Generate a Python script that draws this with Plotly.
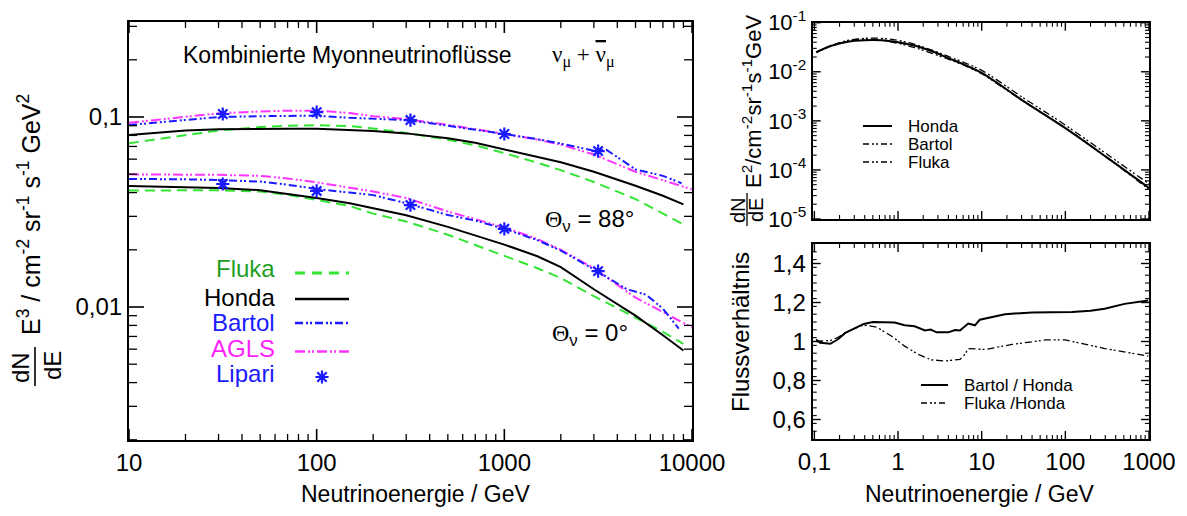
import math
import plotly.graph_objects as go

W, H = 1187, 516

# ---------------- data: left panel (E^3 dN/dE) ----------------
E_left = [10, 15, 20, 30, 50, 70, 100, 150, 200, 300, 500, 700, 1000, 1500, 2000, 3000, 5000, 7000, 9000]

honda_88 = [0.0804, 0.0835, 0.0850, 0.0861, 0.0868, 0.0868, 0.0866, 0.0858, 0.0845, 0.0820, 0.0772, 0.0732,
            0.0675, 0.0620, 0.0578, 0.0515, 0.0435, 0.0385, 0.0347]
fluka_88 = [0.0727, 0.0770, 0.0805, 0.0850, 0.0885, 0.0900, 0.0905, 0.0895, 0.0870, 0.0825, 0.0760, 0.0710,
            0.0645, 0.0575, 0.0525, 0.0455, 0.0370, 0.0310, 0.0272]
E_bartol = [10, 15, 20, 30, 50, 70, 100, 150, 200, 300, 500, 700, 1000, 1500, 2000, 3000, 3500, 5000, 7000, 8800]
bartol_88 = [0.0908, 0.0940, 0.0965, 0.1000, 0.1010, 0.1015, 0.1016, 0.0990, 0.0978, 0.0964, 0.0900, 0.0860,
             0.0814, 0.0765, 0.0725, 0.0665, 0.0672, 0.0530, 0.0490, 0.0448]
E_agls = [10, 15, 20, 30, 50, 70, 100, 150, 200, 300, 500, 700, 1000, 1500, 2000, 3000, 5000, 7000, 10000]
agls_88 = [0.0933, 0.0970, 0.1000, 0.1045, 0.1070, 0.1080, 0.1080, 0.1050, 0.1010, 0.0975, 0.0910, 0.0865,
           0.0815, 0.0760, 0.0715, 0.0635, 0.0515, 0.0465, 0.0416]

honda_0 = [0.0434, 0.0431, 0.0428, 0.0423, 0.0412, 0.0395, 0.0375, 0.0352, 0.0332, 0.0304, 0.0264, 0.0238,
           0.0213, 0.0185, 0.0162, 0.0124, 0.0090, 0.0071, 0.0059]
fluka_0 = [0.0410, 0.0411, 0.0412, 0.0412, 0.0405, 0.0390, 0.0366, 0.0340, 0.0310, 0.0282, 0.0240, 0.0212,
           0.0186, 0.0160, 0.0142, 0.0114, 0.0088, 0.0074, 0.0064]
E_bartol0 = [10, 15, 20, 30, 50, 70, 100, 150, 200, 300, 500, 700, 1000, 1500, 2000, 3000, 4500, 5700, 7000, 8500]
bartol_0 = [0.0472, 0.0472, 0.0470, 0.0466, 0.0457, 0.0440, 0.0418, 0.0400, 0.0388, 0.0352, 0.0305, 0.0285,
            0.0258, 0.0225, 0.0198, 0.0158, 0.0124, 0.0116, 0.0098, 0.0077]
agls_0 = [0.0499, 0.0498, 0.0497, 0.0496, 0.0490, 0.0475, 0.0453, 0.0425, 0.0405, 0.0375, 0.0318, 0.0290,
          0.0262, 0.0228, 0.0200, 0.0160, 0.0112, 0.0094, 0.0078]

E_lipari = [31.6, 100, 316, 1000, 3160]
lipari_88 = [0.1037, 0.1060, 0.0964, 0.0814, 0.0662]
lipari_0 = [0.0444, 0.0408, 0.0344, 0.0258, 0.01545]

# ---------------- data: top right (E^2 dN/dE) ----------------
E_flux = [0.105, 0.16, 0.25, 0.4, 0.63, 1, 1.6, 2.5, 4, 6.3, 10, 32, 100, 316, 1000]
honda_flux = [0.0250, 0.0340, 0.0410, 0.0440, 0.0440, 0.0400, 0.0340, 0.0265, 0.0190, 0.0138, 0.0095,
              0.0025, 0.00071, 0.000178, 0.0000430]
bartol_flux = [0.0250, 0.0335, 0.0430, 0.0480, 0.0480, 0.0435, 0.0360, 0.0278, 0.0205, 0.0152, 0.0107,
               0.00288, 0.00082, 0.000208, 0.0000520]
fluka_flux = [0.0250, 0.0342, 0.0435, 0.0465, 0.0440, 0.0380, 0.0310, 0.0240, 0.0180, 0.0133, 0.0091,
              0.00245, 0.00072, 0.000178, 0.0000400]

# ---------------- data: bottom right (ratios) ----------------
E_ratio_b = [0.105, 0.117, 0.155, 0.19, 0.234, 0.316, 0.39, 0.5, 0.71, 0.91, 1.2, 1.58, 2.1, 2.45, 2.9, 4.0,
             4.8, 5.5, 6.9, 8.3, 9.5, 12.6, 19, 40, 120, 200, 295, 510, 980]
ratio_bartol = [1.010, 0.993, 0.988, 1.010, 1.044, 1.072, 1.090, 1.100, 1.098, 1.097, 1.083, 1.078, 1.057,
                1.061, 1.047, 1.047, 1.059, 1.056, 1.092, 1.083, 1.112, 1.125, 1.140, 1.149, 1.151, 1.158,
                1.168, 1.193, 1.210]
E_ratio_f = [0.105, 0.155, 0.19, 0.234, 0.355, 0.43, 0.56, 0.84, 1.2, 1.74, 2.5, 3.6, 5.5, 6.3, 6.9, 11, 23,
             58, 100, 295, 980]
ratio_fluka = [1.000, 1.005, 1.020, 1.044, 1.080, 1.083, 1.073, 1.027, 0.976, 0.934, 0.906, 0.900, 0.908,
               0.934, 0.964, 0.959, 0.985, 1.008, 1.008, 0.964, 0.925]

# tick values
left_x_ticks = [10, 100, 1000, 10000]
left_x_labels = ["10", "100", "1000", "10000"]
left_y_ticks = [0.01, 0.1]
left_y_labels = ["0,01", "0,1"]
right_x_ticks = [0.1, 1, 10, 100, 1000]
right_x_labels = ["0,1", "1", "10", "100", "1000"]
flux_ticks = [1e-5, 1e-4, 1e-3, 1e-2, 1e-1]
flux_labels = ["10<sup>-5</sup>", "10<sup>-4</sup>", "10<sup>-3</sup>", "10<sup>-2</sup>", "10<sup>-1</sup>"]
ratio_ticks = [0.6, 0.8, 1.0, 1.2, 1.4]
ratio_labels = ["0,6", "0,8", "1", "1,2", "1,4"]

# ---------------- styling ----------------
FONT = "Liberation Sans"
GREEN = "#33e533"
BLUE = "#1a1aff"
MAGENTA = "#ff33ff"
DASH_B = "8px,3px,2px,2px,2px,3px"
DASH_A = "10px,3px,2px,2px,2px,3px"
DASH_K = "7px,3px,2px,2px,2px,3px"
TICK_X = "black"
TICK_Y = "black"


def px(x):
    return x / W


def py(y):
    return 1 - y / H


fig = go.Figure()

# left panel
for yv in [fluka_88, fluka_0]:
    fig.add_trace(go.Scatter(x=E_left, y=yv, mode="lines", line=dict(color=GREEN, width=2, dash="10px,6px"),
                             xaxis="x", yaxis="y", showlegend=False))
for yv in [honda_88, honda_0]:
    fig.add_trace(go.Scatter(x=E_left, y=yv, mode="lines", line=dict(color="black", width=2),
                             xaxis="x", yaxis="y", showlegend=False))
for yv in [agls_88, agls_0]:
    fig.add_trace(go.Scatter(x=E_agls, y=yv, mode="lines", line=dict(color=MAGENTA, width=2, dash=DASH_A),
                             xaxis="x", yaxis="y", showlegend=False))
for yv, xv in [(bartol_88, E_bartol), (bartol_0, E_bartol0)]:
    fig.add_trace(go.Scatter(x=xv, y=yv, mode="lines", line=dict(color=BLUE, width=2, dash=DASH_B),
                             xaxis="x", yaxis="y", showlegend=False))
for yv in [lipari_88, lipari_0]:
    fig.add_trace(go.Scatter(x=E_lipari, y=yv, mode="markers",
                             marker=dict(symbol="asterisk-open", size=11, color=BLUE,
                                         line=dict(color=BLUE, width=2.2)),
                             xaxis="x", yaxis="y", showlegend=False))

# top right
fig.add_trace(go.Scatter(x=E_flux, y=fluka_flux, mode="lines", line=dict(color="black", width=1.3, dash=DASH_K),
                         line_shape="spline", xaxis="x2", yaxis="y2", showlegend=False))
fig.add_trace(go.Scatter(x=E_flux, y=bartol_flux, mode="lines", line=dict(color="black", width=1.3, dash=DASH_K),
                         line_shape="spline", xaxis="x2", yaxis="y2", showlegend=False))
fig.add_trace(go.Scatter(x=E_flux, y=honda_flux, mode="lines", line=dict(color="black", width=2),
                         line_shape="spline", xaxis="x2", yaxis="y2", showlegend=False))

# bottom right
fig.add_trace(go.Scatter(x=E_ratio_f, y=ratio_fluka, mode="lines",
                         line=dict(color="black", width=1.3, dash=DASH_K),
                         xaxis="x3", yaxis="y3", showlegend=False))
fig.add_trace(go.Scatter(x=E_ratio_b, y=ratio_bartol, mode="lines", line=dict(color="black", width=2),
                         xaxis="x3", yaxis="y3", showlegend=False))


def axis(domain, rng, tickvals, ticktext, anchor, typ="log", showlabels=True, fs=24):
    return dict(domain=domain, type=typ, range=rng, tickmode="array", tickvals=tickvals, ticktext=ticktext,
                ticks="", mirror=True, showline=True, linecolor="black", linewidth=2, showgrid=False,
                zeroline=False, automargin=False, showticklabels=showlabels,
                tickfont=dict(family=FONT, size=fs, color="black"), anchor=anchor)


xl_dom = [px(129), px(692)]
yl_dom = [py(440), py(22)]
xr_dom = [px(812.7), px(1149)]
yr1_dom = [py(219), py(22.7)]
yr2_dom = [py(439), py(244)]

XL_RANGE, YL_RANGE = [1, 4], [-2.7, -0.5]
XR_RANGE, YF_RANGE, YR_RANGE = [-1.02, 3.0], [-5, -1], [0.5, 1.5]

fig.update_layout(
    template="none",
    width=W, height=H, margin=dict(l=0, r=0, t=0, b=0, pad=0, autoexpand=False),
    paper_bgcolor="white", plot_bgcolor="rgba(0,0,0,0)",
    font=dict(family=FONT, color="black"),
    showlegend=False,
    xaxis=axis(xl_dom, XL_RANGE, left_x_ticks, left_x_labels, "y"),
    yaxis=axis(yl_dom, YL_RANGE, left_y_ticks, left_y_labels, "x"),
    xaxis2=axis(xr_dom, XR_RANGE, right_x_ticks, [""] * 5, "y2", showlabels=False),
    yaxis2=axis(yr1_dom, YF_RANGE, flux_ticks, flux_labels, "x2", fs=22),
    xaxis3=axis(xr_dom, XR_RANGE, right_x_ticks, right_x_labels, "y3"),
    yaxis3=axis(yr2_dom, YR_RANGE, ratio_ticks, ratio_labels, "x3", typ="linear"),
    xaxis4=dict(domain=[0, 1], range=[0, W], visible=False, anchor="y4", automargin=False),
    yaxis4=dict(domain=[0, 1], range=[H, 0], visible=False, anchor="x4", automargin=False),
)

ann = []


def text(x, y, s, size=24, color="black", xanchor="center", yanchor="middle", angle=0, family=FONT):
    ann.append(dict(x=px(x), y=py(y), xref="paper", yref="paper", text=s, showarrow=False,
                    xanchor=xanchor, yanchor=yanchor, textangle=angle,
                    font=dict(family=family, size=size, color=color)))


# axis titles
text(416, 494, "Neutrinoenergie / GeV", 23)
text(980, 494, "Neutrinoenergie / GeV", 23)
text(740, 332, "Flussverhältnis", 24, angle=-90)

# left y-label with fraction
text(20, 368, "dN", 24, angle=-90)
text(52, 366, "dE", 24, angle=-90)
text(29, 215, "E<sup>3</sup> / cm<sup>-2</sup> sr<sup>-1</sup> s<sup>-1</sup> GeV<sup>2</sup>", 25, angle=-90)

# top right y-label with fraction
text(738, 210, "dN", 20, angle=-90)
text(756, 210, "dE", 20, angle=-90)
text(752, 102, "E<sup>2</sup>/cm<sup>-2</sup>sr<sup>-1</sup>s<sup>-1</sup>GeV", 22, angle=-90)

# title
text(181, 55, "Kombinierte Myonneutrinoflüsse", 23, xanchor="left")
text(550, 57, "ν<sub>μ</sub> + <span style=\"text-decoration:overline\">ν</span><sub>μ</sub>", 23,
     xanchor="left", family="Liberation Serif")

# theta labels
text(543, 220, "<span style=\"font-family:'Liberation Serif'\">Θ</span><sub>ν</sub> = 88°", 24, xanchor="left")
text(550, 334, "<span style=\"font-family:'Liberation Serif'\">Θ</span><sub>ν</sub> = 0°", 24, xanchor="left")

# left legend
leg_rows = [("Fluka", "#1f9f1f", 268), ("Honda", "black", 297), ("Bartol", BLUE, 322),
            ("AGLS", "#ff22ff", 348), ("Lipari", BLUE, 373)]
for name, col, yy in leg_rows:
    text(277, yy, name, 24, color=col, xanchor="right")

# right legends
text(906, 126, "Honda", 17, xanchor="left")
text(906, 144, "Bartol", 17, xanchor="left")
text(906, 162, "Fluka", 17, xanchor="left")
text(962, 385, "Bartol / Honda", 17, xanchor="left")
text(962, 403, "Fluka /Honda", 17, xanchor="left")

fig.update_layout(annotations=ann)

shapes = []


def hline(x0, x1, y, color="black", width=2, dash="solid"):
    shapes.append(dict(type="line", xref="paper", yref="paper", x0=px(x0), x1=px(x1), y0=py(y), y1=py(y),
                       line=dict(color=color, width=width, dash=dash)))


def vline(x, y0, y1, width=1.5):
    shapes.append(dict(type="line", xref="paper", yref="paper", x0=px(x), x1=px(x), y0=py(y0), y1=py(y1),
                       line=dict(color="black", width=width)))


# legend samples and fraction bars
hline(295, 349, 273, GREEN, 3, "10px,7px")
hline(295, 349, 299, "black", 2.5)
hline(295, 349, 323, BLUE, 2.5, DASH_B)
hline(295, 349, 351.5, MAGENTA, 2.5, DASH_A)
vline(35, 347, 386, 1.6)
vline(747, 193, 226, 1.3)
hline(863, 892, 126, "black", 2)
hline(863, 892, 144, "black", 1.3, "6px,3px,2px,2px,2px,3px")
hline(863, 892, 162, "black", 1.3, "6px,3px,2px,2px,2px,3px")
hline(921, 948, 385, "black", 2)
hline(921, 948, 403, "black", 1.3, "6px,3px,2px,2px,2px,3px")


# ---------- inside tick marks (major + minor), drawn on every side in paper coordinates ----------
def log_minors(rng):
    out = []
    for d in range(math.floor(rng[0]) - 1, math.ceil(rng[1]) + 1):
        for m in range(2, 10):
            v = m * 10.0 ** d
            if rng[0] < math.log10(v) < rng[1]:
                out.append(v)
    return out


def frac(v, rng, log):
    t = math.log10(v) if log else v
    return (t - rng[0]) / (rng[1] - rng[0])


def x_ticks(vals, rng, log, x0p, x1p, ytop, ybot, length, width):
    for v in vals:
        xx = x0p + frac(v, rng, log) * (x1p - x0p)
        for ya, yb in [(ybot, ybot - length), (ytop, ytop + length)]:
            shapes.append(dict(type="line", xref="paper", yref="paper", x0=px(xx), x1=px(xx),
                               y0=py(ya), y1=py(yb), line=dict(color=TICK_X, width=width)))


def y_ticks(vals, rng, log, y0p, y1p, xleft, xright, length, width):
    # y0p: pixel of range start (bottom), y1p: pixel of range end (top)
    for v in vals:
        yy = y0p + frac(v, rng, log) * (y1p - y0p)
        for xa, xb in [(xleft, xleft + length), (xright, xright - length)]:
            shapes.append(dict(type="line", xref="paper", yref="paper", x0=px(xa), x1=px(xb),
                               y0=py(yy), y1=py(yy), line=dict(color=TICK_Y, width=width)))


# left panel
x_ticks(left_x_ticks, XL_RANGE, True, 129, 692, 22, 440, 11, 1.6)
x_ticks(log_minors(XL_RANGE), XL_RANGE, True, 129, 692, 22, 440, 6, 1.3)
y_ticks(left_y_ticks, YL_RANGE, True, 440, 22, 129, 692, 15, 1.6)
y_ticks(log_minors(YL_RANGE), YL_RANGE, True, 440, 22, 129, 692, 8, 1.3)
# top right
x_ticks(right_x_ticks, XR_RANGE, True, 812.7, 1149, 22.7, 219, 8, 1.4)
x_ticks(log_minors(XR_RANGE), XR_RANGE, True, 812.7, 1149, 22.7, 219, 4, 1.1)
y_ticks(flux_ticks, YF_RANGE, True, 219, 22.7, 812.7, 1149, 8, 1.4)
y_ticks(log_minors(YF_RANGE), YF_RANGE, True, 219, 22.7, 812.7, 1149, 4, 1.1)
# bottom right
x_ticks(right_x_ticks, XR_RANGE, True, 812.7, 1149, 244, 439, 8, 1.4)
x_ticks(log_minors(XR_RANGE), XR_RANGE, True, 812.7, 1149, 244, 439, 4, 1.1)
y_ticks(ratio_ticks, YR_RANGE, False, 439, 244, 812.7, 1149, 8, 1.4)
y_ticks([round(0.5 + 0.04 * i, 2) for i in range(1, 25)], YR_RANGE, False, 439, 244, 812.7, 1149, 4, 1.1)

fig.update_layout(shapes=shapes)

# Lipari legend marker
fig.add_trace(go.Scatter(x=[322], y=[377], mode="markers", xaxis="x4", yaxis="y4", showlegend=False,
                         hoverinfo="skip",
                         marker=dict(symbol="asterisk-open", size=11, color=BLUE, line=dict(color=BLUE, width=2.2))))

fig.write_html("out.html")
